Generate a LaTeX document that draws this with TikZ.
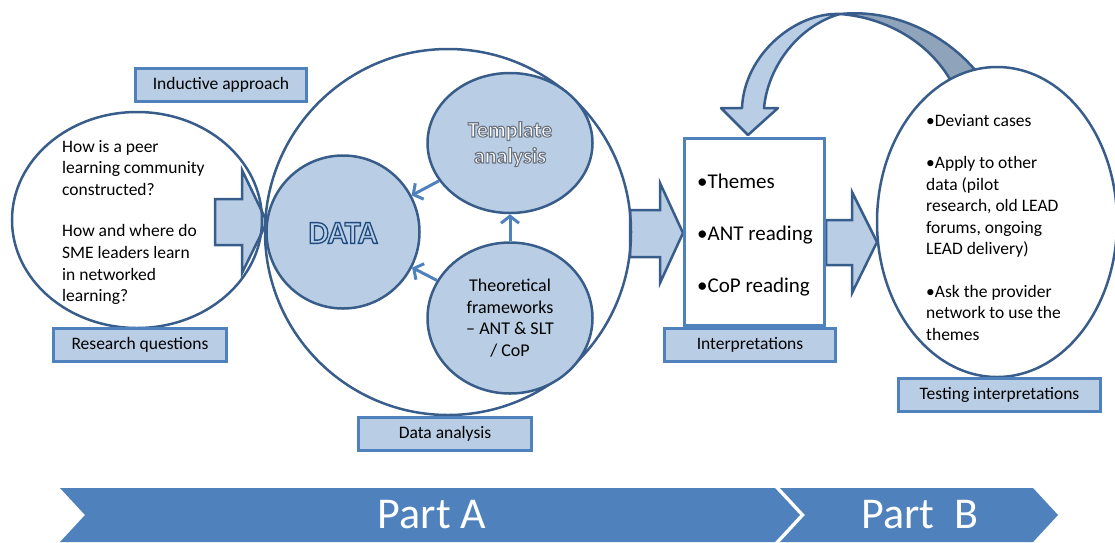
\documentclass[tikz,border=0pt]{standalone}
\usepackage{fontspec}
\setmainfont{Carlito}
\usetikzlibrary{shapes.geometric,arrows.meta}
\definecolor{lfill}{HTML}{B9CDE5}
\definecolor{dblue}{HTML}{385D8A}
\definecolor{mblue}{HTML}{4F81BD}
\definecolor{darkarc}{HTML}{8FA3BA}
\newcommand\myoutline[3]{\special{pdf:literal direct #1 RG #2 w 2 Tr}#3\special{pdf:literal direct 0 Tr}}
\tikzset{
  lblbox/.style={rectangle, fill=lfill, draw=mblue, line width=3pt, minimum width=#1, minimum height=33pt, inner sep=0pt, font=\fontsize{17.5}{20}\selectfont},
  bigell/.style={ellipse, draw=dblue, line width=2.5pt, inner sep=0pt},
  subcirc/.style={ellipse, draw=dblue, fill=lfill, line width=2.5pt, inner sep=0pt},
  blockarr/.style={fill=lfill, draw=dblue, line width=2.5pt, line join=miter},
  smallarr/.style={draw=mblue, line width=3pt, -{Straight Barb[length=7pt,width=18pt]}},
  curvearr/.style={draw=dblue, line width=2.5pt, line join=round},
  chev/.style={fill=mblue},
  bodytext/.style={inner sep=0pt, align=left, anchor=north west}
}
\begin{document}
\begin{tikzpicture}[x=1pt,y=-1pt]
\useasboundingbox (0,0) rectangle (1115,542);
% chevrons
\fill[chev] (60,488) -- (775,488) -- (800,515) -- (775,542) -- (60,542) -- (85,515) -- cycle;
\fill[chev] (780,488) -- (1033,488) -- (1058,515) -- (1033,542) -- (780,542) -- (805,515) -- cycle;
\node[text=white, font=\fontsize{44}{44}\selectfont, inner sep=0] (pa) at (432,515) {Part A};
\node[text=white, font=\fontsize{44}{44}\selectfont, inner sep=0] (pb) at (920,515) {Part\ \ B};

% block arrows
\draw[blockarr] (215,199) -- (242,199) -- (242,170) -- (267,222) -- (242,273) -- (242,245) -- (215,245) -- cycle;
\draw[blockarr] (630,210) -- (660,210) -- (660,183) -- (683,233) -- (660,283) -- (660,257) -- (630,257) -- cycle;

% big ellipses
\node[bigell, minimum width=250, minimum height=216] (rq) at (137,220) {};
\node[bigell, circle, minimum size=366] (big) at (448,232) {};

% curved arrow (back part)
\coordinate (peak) at (840,14);
\draw[curvearr, fill=darkarc] (peak) .. controls (900,8) and (950,40) .. (975,70) -- (950,79.4) .. controls (930,45) and (890,18) .. (peak) -- cycle;
% testing ellipse
\node[bigell, fill=white, minimum width=240, minimum height=310] (test) at (997,222) {};
% curved arrow (front part)
\draw[curvearr, fill=lfill] (742,108) .. controls (744,55) and (795,12) .. (peak) .. controls (800,25) and (768,65) .. (764,108) -- (778,108) -- (748,135) -- (721,108) -- cycle;

\draw[blockarr] (826,220) -- (852,220) -- (852,192) -- (877,242) -- (852,293) -- (852,265) -- (826,265) -- cycle;

% interpretations box
\node[rectangle, draw=mblue, fill=white, line width=3pt, minimum width=140, minimum height=187, inner sep=0] (interp) at (754.5,232) {};

% inner circles
\node[subcirc, circle, minimum size=153] (data) at (343,232) {};
\node[subcirc, minimum width=165, minimum height=140] (tmpl) at (510,143) {};
\node[subcirc, minimum width=165, minimum height=151] (theo) at (510,318) {};

\draw[smallarr] (tmpl) -- (data);
\draw[smallarr] (theo) -- (data);
\draw[smallarr] (theo) -- (tmpl);

% DATA text (outlined)
\node[text=lfill, font=\fontsize{32}{32}\selectfont\bfseries, inner sep=0] (datatxt) at (343,233) {\myoutline{0.12 0.29 0.49}{1.3}{DATA}};

% Template analysis text (white with grey edge)
\node[text=white, font=\fontsize{22}{26}\selectfont\bfseries, align=center, inner sep=0] (tmpltxt) at (510,144) {\myoutline{0.42 0.45 0.5}{1.1}{Template}\\\myoutline{0.42 0.45 0.5}{1.1}{analysis}};

\node[align=center, inner sep=0, font=\fontsize{18}{21.6}\selectfont] (theotxt) at (510,318) {Theoretical\\frameworks\\– ANT \& SLT\\/ CoP};

% body texts
\node[bodytext, font=\fontsize{17.5}{21.7}\selectfont] (rqtxt) at (62,140) {How is a peer\\learning community\\constructed?\\[19.5pt]How and where do\\SME leaders learn\\in networked\\learning?};
\node[bodytext, font=\fontsize{21}{26}\selectfont] (interptxt) at (697,174) {•Themes\\[26pt]•ANT reading\\[26pt]•CoP reading};
\node[bodytext, font=\fontsize{17.5}{21.5}\selectfont] (testtxt) at (926,114) {•Deviant cases\\[21pt]•Apply to other\\data (pilot\\research, old LEAD\\forums, ongoing\\LEAD delivery)\\[21pt]•Ask the provider\\network to use the\\themes};

% labels
\node[lblbox=171] (l1) at (221,85) {Inductive approach};
\node[lblbox=173] (l2) at (140,345) {Research questions};
\node[lblbox=173] (l3) at (445,434) {Data analysis};
\node[lblbox=171] (l4) at (750,344.5) {Interpretations};
\node[lblbox=202] (l5) at (999.5,394.5) {Testing interpretations};
\end{tikzpicture}
\end{document}
